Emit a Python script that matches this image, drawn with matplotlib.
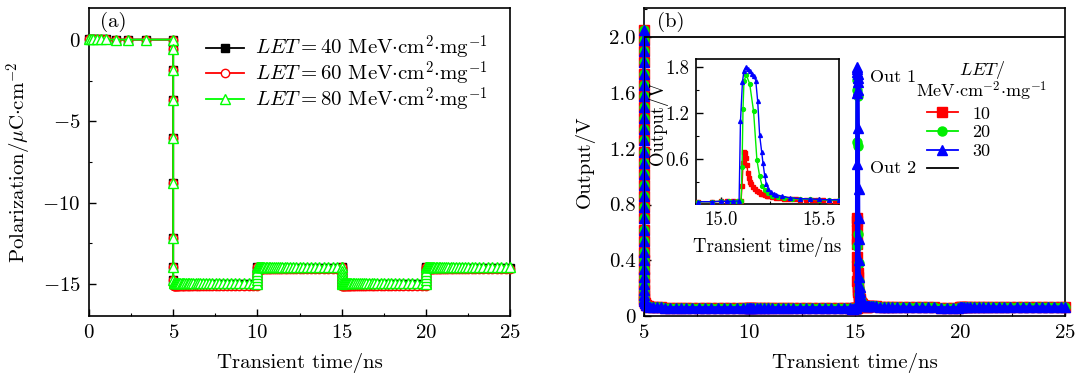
import numpy as np
import matplotlib
matplotlib.use('Agg')
import matplotlib.pyplot as plt
from matplotlib.lines import Line2D
from matplotlib.ticker import MultipleLocator, FormatStrFormatter, FuncFormatter

plt.rcParams['font.family'] = ['cmr10', 'DejaVu Serif']
plt.rcParams['mathtext.fontset'] = 'cm'
plt.rcParams['axes.formatter.use_mathtext'] = True
plt.rcParams['font.size'] = 15

# ---------------- panel (a): polarization ----------------
# start of run, 0 -> 5 ns
pol_t0 = [0.0, 0.1, 0.25, 0.45, 0.7, 1.0, 1.6, 2.3, 3.4, 5.0]
pol_v0 = [0.1, 0.1, 0.1, 0.08, 0.07, 0.06, 0.05, 0.05, 0.05, 0.05]
# switching at 5 ns (values along the vertical drop)
pol_drop5 = [-0.5, -1.8, -3.7, -6.0, -8.8, -12.2, -14.0, -14.8]
# sampling inside each 5 ns window after a pulse
pol_step_t = [0.02, 0.05, 0.08, 0.12, 0.16, 0.2, 0.25, 0.3, 0.36, 0.42, 0.5, 0.58,
              0.67, 0.76, 0.86, 0.96, 1.08, 1.2, 1.33, 1.47, 1.62, 1.78, 1.95, 2.13,
              2.32, 2.52, 2.73, 2.95, 3.18, 3.42, 3.67, 3.93, 4.2, 4.48, 4.75, 5.0]
pol_jump_up = [-15.0, -14.8, -14.6, -14.4, -14.2, -14.0]
pol_jump_dn = [-14.0, -14.2, -14.4, -14.6, -14.8, -15.0]
pulse_starts = [5.0, 10.0, 15.0, 20.0]

let_a = ['40', '60', '80']
low_a = [-15.05, -15.12, -14.95]
high_a = [-14.05, -14.12, -13.95]

# ---------------- panel (b): output voltage ----------------
# Out 1 falling edge at 5 ns
out_rise5 = [2.05, 1.98, 1.9, 1.82, 1.74, 1.66, 1.58, 1.5, 1.42, 1.34, 1.26, 1.18,
             1.1, 1.02, 0.94, 0.86, 0.78, 0.7, 0.62, 0.54, 0.46, 0.4, 0.34, 0.28,
             0.23, 0.19, 0.15, 0.12]
base_t = [5.02, 5.05, 5.1, 5.18, 5.3, 5.45, 5.6, 5.8, 6.0, 6.25, 6.5, 6.75, 7.0,
          7.3, 7.6, 7.9, 8.2, 8.5, 8.8, 9.1, 9.4, 9.7, 9.9, 10.0, 10.05, 10.1, 10.2,
          10.35, 10.5, 10.7, 10.9, 11.1, 11.35, 11.6, 11.85, 12.1, 12.4, 12.7, 13.0,
          13.3, 13.6, 13.9, 14.2, 14.5, 14.8]
base_v = [0.11, 0.09, 0.08, 0.072, 0.068, 0.065, 0.063, 0.062, 0.06, 0.06, 0.06,
          0.06, 0.06, 0.06, 0.06, 0.06, 0.06, 0.06, 0.06, 0.06, 0.06, 0.06, 0.06,
          0.055, 0.058, 0.06, 0.06, 0.06, 0.06, 0.06, 0.06, 0.06, 0.06, 0.06, 0.06,
          0.06, 0.06, 0.06, 0.06, 0.06, 0.06, 0.06, 0.06, 0.06, 0.06]
tail_t = [15.65, 15.7, 15.8, 15.9, 16.0, 16.2, 16.4, 16.6, 16.8, 17.0, 17.3, 17.6,
          17.9, 18.2, 18.5, 18.8, 19.1, 19.4, 19.7, 19.9, 20.0, 20.05, 20.1, 20.2,
          20.35, 20.5, 20.7, 20.9, 21.1, 21.35, 21.6, 21.85, 22.1, 22.4, 22.7, 23.0,
          23.3, 23.6, 23.9, 24.2, 24.5, 24.8, 25.0]
tail_v = [0.075, 0.074, 0.072, 0.071, 0.07, 0.068, 0.067, 0.066, 0.065, 0.065,
          0.064, 0.063, 0.062, 0.062, 0.061, 0.061, 0.06, 0.06, 0.06, 0.06, 0.065,
          0.068, 0.068, 0.067, 0.066, 0.066, 0.065, 0.065, 0.065, 0.065, 0.065,
          0.065, 0.065, 0.065, 0.065, 0.065, 0.065, 0.065, 0.065, 0.065, 0.065,
          0.065, 0.065]

# transient pulse around 15.1 ns (also shown in the inset)
spike_t_10 = [14.88, 14.95, 15.0, 15.03, 15.06, 15.09, 15.1, 15.105, 15.11, 15.115,
              15.12, 15.125, 15.13, 15.135, 15.14, 15.145, 15.15, 15.16, 15.17, 15.18,
              15.19, 15.2, 15.21, 15.22, 15.23, 15.24, 15.26, 15.28, 15.3, 15.32,
              15.34, 15.36, 15.38, 15.4, 15.43, 15.46, 15.49, 15.52, 15.55, 15.58, 15.6]
spike_v_10 = [0.05, 0.05, 0.055, 0.055, 0.055, 0.055, 0.06, 0.25, 0.55, 0.7, 0.68,
              0.62, 0.52, 0.42, 0.36, 0.31, 0.28, 0.24, 0.21, 0.19, 0.17, 0.155,
              0.145, 0.135, 0.125, 0.12, 0.11, 0.1, 0.095, 0.09, 0.085, 0.08, 0.08,
              0.075, 0.075, 0.07, 0.07, 0.07, 0.065, 0.065, 0.065]
spike_t_20 = [14.88, 14.95, 15.0, 15.04, 15.08, 15.1, 15.105, 15.11, 15.115, 15.127,
              15.144, 15.164, 15.181, 15.195, 15.208, 15.222, 15.237, 15.26, 15.29,
              15.32, 15.36, 15.4, 15.45, 15.5, 15.55, 15.6]
spike_v_20 = [0.05, 0.05, 0.055, 0.055, 0.055, 0.06, 0.5, 1.25, 1.62, 1.69, 1.58,
              1.22, 0.59, 0.38, 0.25, 0.2, 0.16, 0.13, 0.11, 0.1, 0.09, 0.085, 0.08,
              0.075, 0.07, 0.07]
spike_t_30 = [14.88, 14.95, 15.0, 15.03, 15.06, 15.09, 15.097, 15.107, 15.115, 15.124,
              15.135, 15.145, 15.155, 15.165, 15.175, 15.185, 15.195, 15.205, 15.212,
              15.22, 15.229, 15.24, 15.254, 15.27, 15.28, 15.31, 15.35, 15.4, 15.45,
              15.5, 15.55, 15.6]
spike_v_30 = [0.05, 0.05, 0.055, 0.055, 0.055, 0.06, 1.09, 1.6, 1.75, 1.79, 1.77,
              1.74, 1.71, 1.68, 1.62, 1.35, 0.91, 0.7, 0.55, 0.4, 0.28, 0.21, 0.17,
              0.15, 0.14, 0.12, 0.1, 0.09, 0.085, 0.08, 0.075, 0.075]

# Out 2 stays high from 5 ns
out2_t = [5.0, 5.0, 25.0]
out2_v = [0.0, 2.0, 2.0]

let_b = ['10', '20', '30']
spikes = [(spike_t_10, spike_v_10), (spike_t_20, spike_v_20), (spike_t_30, spike_v_30)]


def build_pol(low, high):
    t = list(pol_t0) + [5.0] * len(pol_drop5)
    v = list(pol_v0) + list(pol_drop5)
    levels = [low, high, low, high]
    for k, t0 in enumerate(pulse_starts):
        t += [t0 + dt for dt in pol_step_t]
        v += [levels[k]] * len(pol_step_t)
        if k < 3:
            jump = pol_jump_up if k % 2 == 0 else pol_jump_dn
            t += [t0 + 5.0] * len(jump)
            v += jump
    return np.array(t), np.array(v)


def style_ticks(ax, pad=6):
    ax.tick_params(which='both', direction='in', top=False, right=False, pad=pad)
    ax.tick_params(which='major', length=5, width=1)
    ax.tick_params(which='minor', length=2.5, width=0.8)
    for s in ax.spines.values():
        s.set_linewidth(1.2)


fig = plt.figure(figsize=(10.75, 3.76), dpi=100)
W, H = 1075.0, 376.0

# ---------- (a) ----------
ax1 = fig.add_axes([89 / W, (H - 316) / H, 421 / W, 308 / H])
colors_a = ['#000000', '#ff0000', '#00ff00']
markers_a = ['s', 'o', '^']
for i, lab in enumerate(let_a):
    t, v = build_pol(low_a[i], high_a[i])
    face = colors_a[i] if i == 0 else 'white'
    ax1.plot(t, v, color=colors_a[i], lw=1.3, marker=markers_a[i],
             ms=6 if i < 2 else 7, mfc=face, mec=colors_a[i], mew=1.0,
             clip_on=False, zorder=3 + i,
             label=r'$LET=%s$ MeV$\cdot$cm$^2$$\cdot$mg$^{-1}$' % lab)
ax1.set_xlim(0, 25)
ax1.set_ylim(-17, 2)
ax1.xaxis.set_major_locator(MultipleLocator(5))
ax1.xaxis.set_minor_locator(MultipleLocator(2.5))
ax1.yaxis.set_major_locator(MultipleLocator(5))
ax1.yaxis.set_minor_locator(MultipleLocator(2.5))
style_ticks(ax1)
ax1.set_xlabel('Transient time/ns', labelpad=8)
ax1.set_ylabel(r'Polarization/$\mu$C$\cdot$cm$^{-2}$', labelpad=6)
ax1.text(0.026, 0.955, '(a)', transform=ax1.transAxes, va='center', ha='left')
ax1.legend(loc='upper left', bbox_to_anchor=((206 - 89) / 421, (316 - 34) / 308),
           frameon=False, handlelength=1.8, handletextpad=0.55, labelspacing=-0.12,
           fontsize=15, borderaxespad=0, borderpad=0)

# ---------- (b) ----------
ax2 = fig.add_axes([644 / W, (H - 316) / H, 421 / W, 308 / H])
colors_b = ['#ff0000', '#00ee00', '#0000ff']
markers_b = ['s', 'o', '^']
for i, lab in enumerate(let_b):
    st, sv = spikes[i]
    t = [5.0] * len(out_rise5) + base_t + st + tail_t
    v = out_rise5 + base_v + sv + tail_v
    ax2.plot(t, v, color=colors_b[i], lw=2.2, marker=markers_b[i],
             ms=7 if i == 2 else 6.5, mec=colors_b[i], mfc=colors_b[i],
             clip_on=False, zorder=3 + i)
ax2.plot(out2_t, out2_v, color='black', lw=1.3, zorder=7)
ax2.set_xlim(5, 25)
ax2.set_ylim(0, 2.21)
ax2.xaxis.set_major_locator(MultipleLocator(5))
ax2.xaxis.set_minor_locator(MultipleLocator(2.5))
ax2.yaxis.set_major_locator(MultipleLocator(0.4))
ax2.yaxis.set_minor_locator(MultipleLocator(0.2))
ax2.yaxis.set_major_formatter(FuncFormatter(
    lambda x, p: '0' if abs(x) < 1e-9 else '%.1f' % x))
style_ticks(ax2)
ax2.set_xlabel('Transient time/ns', labelpad=8)
ax2.set_ylabel('Output/V', labelpad=10)
ax2.text(0.03, 0.955, '(b)', transform=ax2.transAxes, va='center', ha='left')

# custom legend for panel (b)
fs_leg = 13
leg_h = [Line2D([], [], color=c, lw=1.3, marker=m, ms=6.5, mfc=c, mec=c)
         for c, m in zip(colors_b, markers_b)]
leg_h.append(Line2D([], [], color='black', lw=1.3))
ax2.legend(leg_h, let_b + [''], loc='upper left',
           bbox_to_anchor=((927 - 644) / 421, (316 - 106) / 308), frameon=False,
           handlelength=1.7, handletextpad=0.8, labelspacing=0.17, fontsize=fs_leg,
           borderaxespad=0, borderpad=0)
ax2.text((870 - 644) / 421, (316 - 77) / 308, 'Out 1', transform=ax2.transAxes,
         va='center', ha='left', fontsize=fs_leg)
ax2.text((870 - 644) / 421, (316 - 168) / 308, 'Out 2', transform=ax2.transAxes,
         va='center', ha='left', fontsize=fs_leg)
ax2.text((982 - 644) / 421, (316 - 70) / 308, '$LET$/', transform=ax2.transAxes,
         va='center', ha='center', fontsize=fs_leg)
ax2.text((982 - 644) / 421, (316 - 91) / 308, 'MeV$\\cdot$cm$^{-2}$$\\cdot$mg$^{-1}$',
         transform=ax2.transAxes, va='center', ha='center', fontsize=fs_leg)

# ---------- inset ----------
ax3 = fig.add_axes([696 / W, (H - 204) / H, 143 / W, 145 / H])
for i in range(3):
    st, sv = spikes[i]
    ax3.plot(st, sv, color=colors_b[i], lw=1, marker=markers_b[i], ms=2.8,
             mfc=colors_b[i], mec=colors_b[i], zorder=3 + i)
ax3.set_xlim(14.87, 15.6)
ax3.set_ylim(0.02, 1.9)
ax3.xaxis.set_major_locator(MultipleLocator(0.5))
ax3.xaxis.set_minor_locator(MultipleLocator(0.25))
ax3.yaxis.set_major_locator(MultipleLocator(0.6))
ax3.yaxis.set_minor_locator(MultipleLocator(0.3))
ax3.yaxis.set_major_formatter(FormatStrFormatter('%.1f'))
ax3.xaxis.set_major_formatter(FormatStrFormatter('%.1f'))
style_ticks(ax3, pad=5)
ax3.tick_params(labelsize=13.5)
ax3.set_xlabel('Transient time/ns', labelpad=6, fontsize=13.5)
ax3.set_ylabel('Output/V', labelpad=-2, fontsize=13.5)
ax3.yaxis.label.set_y(0.56)

fig.savefig('out.png', dpi=100)
